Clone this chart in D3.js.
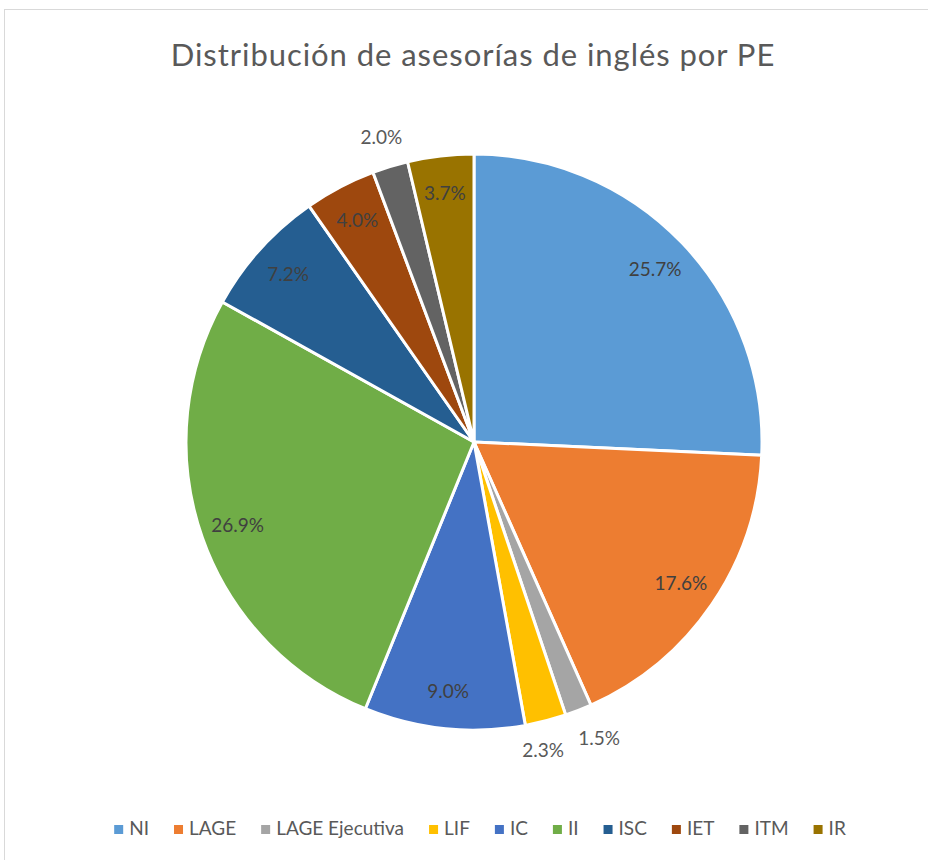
<!DOCTYPE html>
<html>
  <head>
    <meta charset="utf-8">
    <script src="https://cdn.jsdelivr.net/npm/d3@7"></script>
    <style>
      body { margin: 0; background: #fff; }
      text { font-family: Lato, "Open Sans", sans-serif; }
    </style>
  </head>
<body>
  <script type="text/javascript">
    "use strict";

    // chart data
    var categories = ["NI", "LAGE", "LAGE Ejecutiva", "LIF", "IC", "II", "ISC", "IET", "ITM", "IR"];
    var shares = [25.7, 17.6, 1.5, 2.3, 9.0, 26.9, 7.2, 4.0, 2.0, 3.7];
    var colors = ["#5B9BD5", "#ED7D31", "#A5A5A5", "#FFC000", "#4472C4",
                  "#70AD47", "#255E91", "#9E480E", "#636363", "#997300"];
    // slices whose label Excel puts outside the pie
    var outsideLabels = ["LAGE Ejecutiva", "LIF", "ITM"];

    var width = 928, height = 860;
    var cx = 474, cy = 442, radius = 288;

    var data = categories.map(function (c, i) {
      return { name: c, value: shares[i], color: colors[i] };
    });

    var svg = d3.select("body").append("svg")
        .attr("width", width)
        .attr("height", height);

    // chart area frame
    svg.append("rect")
        .attr("x", 4.5).attr("y", 9.5)
        .attr("width", width + 20).attr("height", height + 20)
        .attr("fill", "none")
        .attr("stroke", "#d9d9d9");

    // title
    svg.append("text")
        .attr("x", 473)
        .attr("y", 66)
        .attr("text-anchor", "middle")
        .style("font-size", "31px")
        .style("letter-spacing", "0.95px")
        .style("fill", "#595959")
        .text("Distribución de asesorías de inglés por PE");

    var pie = d3.pie()
        .value(function (d) { return d.value; })
        .sort(null);

    var arc = d3.arc().innerRadius(0).outerRadius(radius);
    var arcs = pie(data);

    var g = svg.append("g")
        .attr("transform", "translate(" + cx + "," + cy + ")");

    g.selectAll("path.slice")
      .data(arcs)
      .enter().append("path")
        .attr("class", "slice")
        .attr("d", arc)
        .attr("fill", function (d) { return d.data.color; })
        .attr("stroke", "#fff")
        .attr("stroke-width", 3)
        .attr("stroke-linejoin", "round");

    // data labels
    var insideArc = d3.arc().innerRadius(radius * 0.87).outerRadius(radius * 0.87);
    var outsideArc = d3.arc().innerRadius(radius + 30).outerRadius(radius + 30);

    var labelPos = arcs.map(function (d) {
      var out = outsideLabels.indexOf(d.data.name) >= 0;
      var p = (out ? outsideArc : insideArc).centroid(d);
      return { x: p[0], y: p[1], out: out };
    });

    // push overlapping outside labels apart horizontally
    var minGap = 56;
    for (var i = 0; i < labelPos.length; i++) {
      for (var j = i + 1; j < labelPos.length; j++) {
        var a = labelPos[i], b = labelPos[j];
        if (!a.out || !b.out || Math.abs(a.y - b.y) > 22) continue;
        var dx = a.x - b.x;
        var overlap = minGap - Math.abs(dx);
        if (overlap > 0) {
          var s = dx >= 0 ? 1 : -1;
          a.x += s * overlap / 2;
          b.x -= s * overlap / 2;
        }
      }
    }

    g.selectAll("text.label")
      .data(arcs)
      .enter().append("text")
        .attr("class", "label")
        .attr("x", function (d, i) { return labelPos[i].x; })
        .attr("y", function (d, i) { return labelPos[i].y; })
        .attr("text-anchor", "middle")
        .attr("dy", "0.35em")
        .style("font-size", "19px")
        .style("fill", function (d, i) {
          return labelPos[i].out ? "#595959" : "#404040";
        })
        .text(function (d) { return d3.format(".1f")(d.data.value) + "%"; });

    // legend
    var legend = svg.append("g").attr("class", "legend");
    var items = legend.selectAll("g")
      .data(data)
      .enter().append("g");

    items.append("rect")
        .attr("width", 9).attr("height", 9)
        .attr("y", -10)
        .attr("fill", function (d) { return d.color; });

    items.append("text")
        .attr("x", 15)
        .style("font-size", "19px")
        .style("fill", "#595959")
        .text(function (d) { return d.name; });

    var xPos = 0, gap = 25;
    items.each(function () {
      var w = d3.select(this).select("text").node().getComputedTextLength();
      d3.select(this).attr("transform", "translate(" + xPos + ",0)");
      xPos += 15 + w + gap;
    });
    var total = xPos - gap;
    legend.attr("transform", "translate(" + (480 - total / 2) + ",835)");
  </script>
</body>
</html>
